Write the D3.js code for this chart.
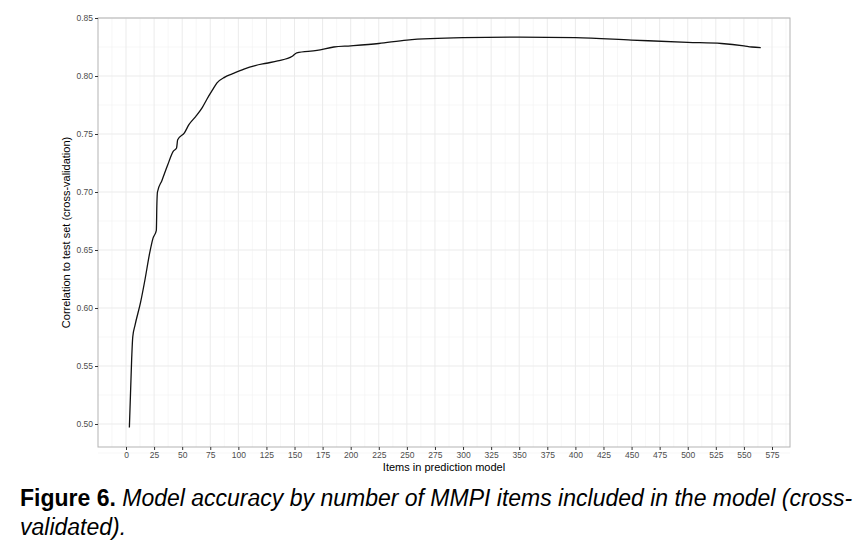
<!DOCTYPE html><html><head><meta charset="utf-8"><script src="https://cdn.jsdelivr.net/npm/d3@7"></script>
<style>body{margin:0;background:#fff}</style></head><body><svg id="c" width="854" height="546"></svg><script>
const items=[3,5,6,8,13,17,21,24,27,27.5,28,32,37,42,45,46,52,56,62,68,72,77,81,88,95,105,115,125,135,148,152,170,185,200,225,250,300,350,400,450,500,530,550,557,565];
const corr=[0.497,0.555,0.575,0.585,0.605,0.625,0.647,0.66,0.667,0.69,0.70,0.71,0.723,0.735,0.738,0.745,0.751,0.758,0.765,0.773,0.780,0.788,0.794,0.799,0.802,0.806,0.809,0.811,0.813,0.817,0.820,0.822,0.825,0.826,0.828,0.831,0.833,0.8335,0.833,0.831,0.829,0.828,0.826,0.825,0.8245];
const xTicks=d3.range(0,576,25);
const yTicks=[0.50,0.55,0.60,0.65,0.70,0.75,0.80,0.85];
const svg=d3.select("#c");
const L=98,R=790,T=18,B=447;
const x=d3.scaleLinear().domain([0,575]).range([126,772]);
const y=d3.scaleLinear().domain([0.5,0.85]).range([424,18]);
const g=svg.append("g");
g.selectAll(".mn").data(d3.range(0.475,0.87,0.05)).join("line").attr("x1",L).attr("x2",R).attr("y1",d=>y(d)).attr("y2",d=>y(d)).attr("stroke","#f2f2f2").attr("stroke-width",0.6);
g.selectAll(".mnx").data(d3.range(-12.5,590,25)).join("line").attr("y1",T).attr("y2",B).attr("x1",d=>x(d)).attr("x2",d=>x(d)).attr("stroke","#f2f2f2").attr("stroke-width",0.6);
g.selectAll(".gy").data(yTicks).join("line").attr("x1",L).attr("x2",R).attr("y1",d=>y(d)).attr("y2",d=>y(d)).attr("stroke","#ebebeb");
g.selectAll(".gx").data(xTicks).join("line").attr("y1",T).attr("y2",B).attr("x1",d=>x(d)).attr("x2",d=>x(d)).attr("stroke","#ebebeb");
g.append("rect").attr("x",L).attr("y",T).attr("width",R-L).attr("height",B-T).attr("fill","none").attr("stroke","#b3b3b3");
const ax=svg.append("g").attr("transform",`translate(0,${B})`).call(d3.axisBottom(x).tickValues(xTicks).tickSize(3).tickPadding(2));
const ay=svg.append("g").attr("transform",`translate(${L},0)`).call(d3.axisLeft(y).tickValues(yTicks).tickFormat(d3.format(".2f")).tickSize(3).tickPadding(2));
[ax,ay].forEach(a=>{a.select(".domain").remove();a.selectAll("line").attr("stroke","#333");a.selectAll("text").attr("fill","#4d4d4d").style("font-family","Liberation Sans,Arial").style("font-size","8.5px");});
svg.append("path").datum(items.map((d,i)=>[d,corr[i]])).attr("d",d3.line().x(d=>x(d[0])).y(d=>y(d[1])).curve(d3.curveMonotoneX)).attr("fill","none").attr("stroke","#111").attr("stroke-width",1.3);
svg.append("text").attr("x",(L+R)/2).attr("y",471).attr("text-anchor","middle").style("font-family","Liberation Sans,Arial").style("font-size","11px").text("Items in prediction model");
svg.append("text").attr("transform",`translate(70,${(T+B)/2}) rotate(-90)`).attr("text-anchor","middle").style("font-family","Liberation Sans,Arial").style("font-size","11px").text("Correlation to test set (cross-validation)");
const ff="'Liberation Sans Narrow','Arial Narrow','Liberation Sans',Arial";
const t1=svg.append("text").attr("x",20).attr("y",506).style("font-family",ff).style("font-size","23px");
t1.append("tspan").attr("font-weight","bold").text("Figure 6.");
t1.append("tspan").attr("font-style","italic").text("  Model accuracy by number of MMPI items included in the model (cross-");
svg.append("text").attr("x",20).attr("y",535).style("font-family",ff).style("font-size","23px").attr("font-style","italic").text("validated).");
</script></body></html>
